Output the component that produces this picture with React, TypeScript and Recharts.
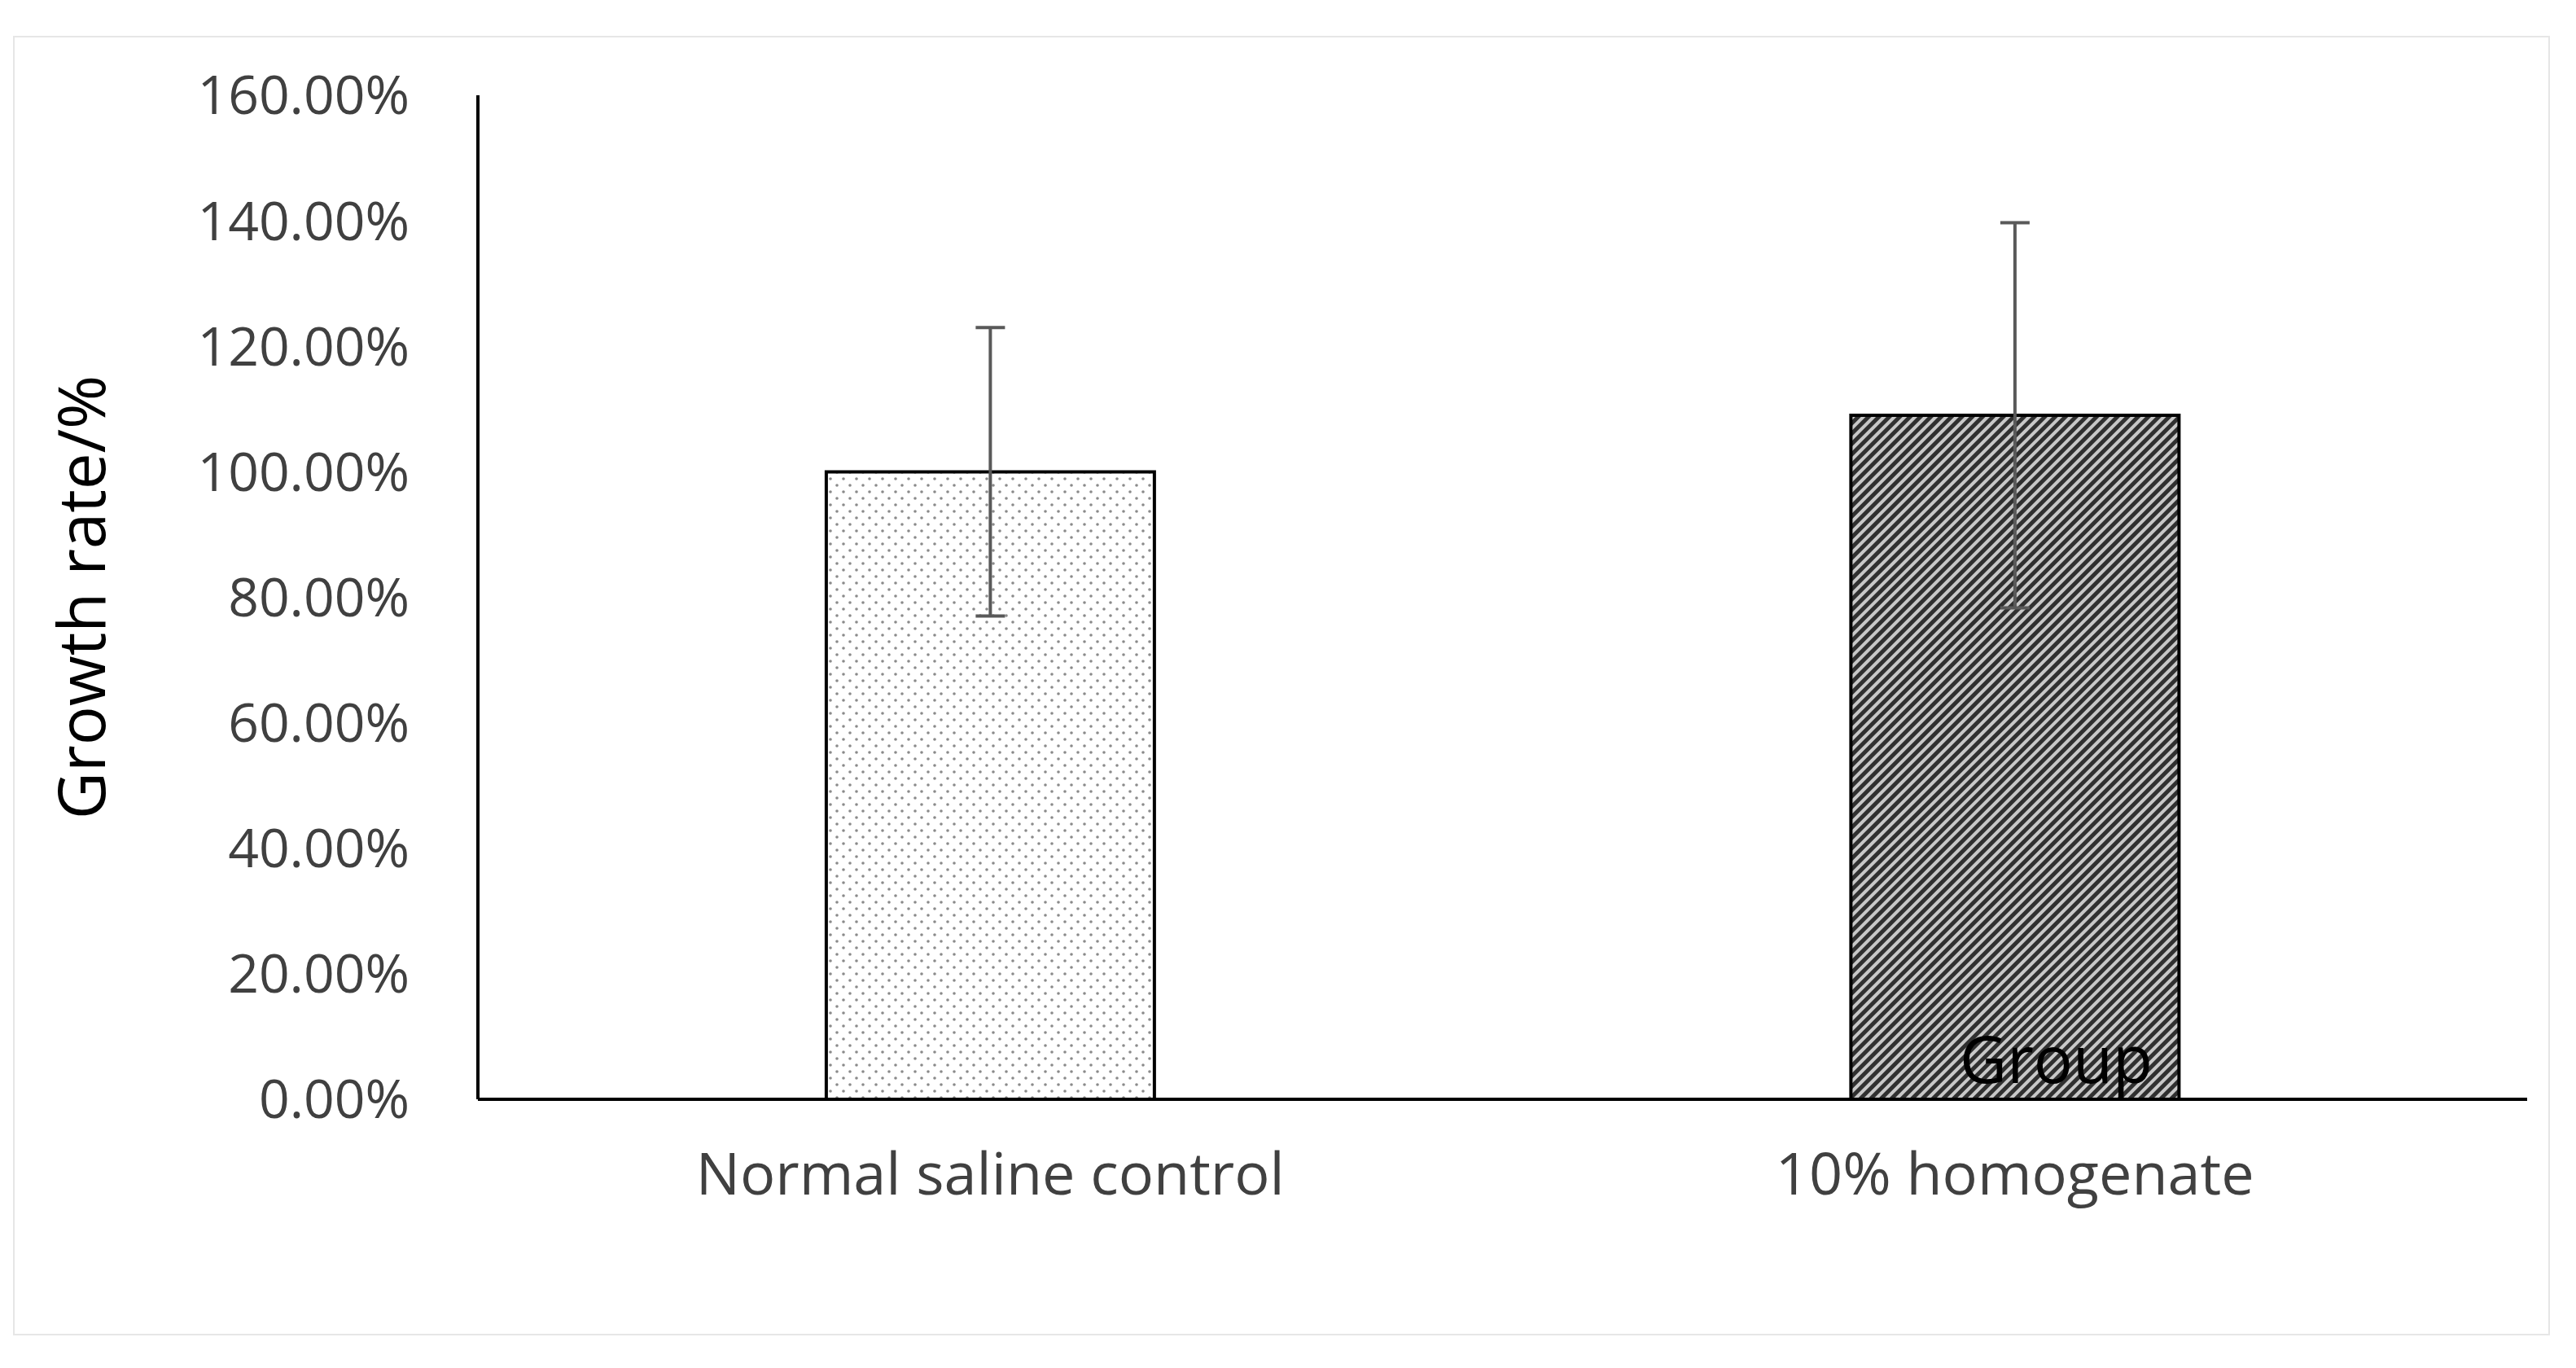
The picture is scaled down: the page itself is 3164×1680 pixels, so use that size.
import { Bar, BarChart, ErrorBar, XAxis, YAxis } from "recharts";

const groups = ["Normal saline control", "10% homogenate"];
const growthRate = [100, 109];
const errors = [23, 30.7];
const fills = ["url(#dots)", "url(#hatch)"];

const rows = groups.map((group, i) => ({ group, value: growthRate[i], err: errors[i], fill: fills[i] }));
const yTicks = [0, 20, 40, 60, 80, 100, 120, 140, 160];

const font = "'Open Sans', 'Noto Sans', sans-serif";

export default function App() {
  return (
    <div style={{ position: "relative", width: 3148, height: 1664, fontFamily: font }}>
      <div
        style={{
          position: "absolute",
          left: 8,
          top: 36,
          width: 3112,
          height: 1592,
          border: "2px solid #e6e6e6",
        }}
      />
      <BarChart
        width={3148}
        height={1664}
        data={rows}
        margin={{ top: 109, right: 52, bottom: 292, left: 0 }}
        barCategoryGap="34%"
        style={{ position: "absolute", left: 0, top: 0 }}
      >
        <defs>
          <pattern id="dots" width="16" height="16" patternUnits="userSpaceOnUse">
            <rect width="16" height="16" fill="#fff" />
            <circle cx="4" cy="4" r="1.8" fill="#8a8a8a" />
            <circle cx="12" cy="12" r="1.8" fill="#8a8a8a" />
          </pattern>
          <pattern id="hatch" width="9" height="9" patternUnits="userSpaceOnUse" patternTransform="rotate(45)">
            <rect width="9" height="9" fill="#c8c8c8" />
            <rect x="0" width="5" height="9" fill="#303030" />
          </pattern>
        </defs>
        <XAxis
          dataKey="group"
          axisLine={{ stroke: "#000", strokeWidth: 4 }}
          tickLine={false}
          tickMargin={60}
          tick={{ fontSize: 72, fill: "#404040", fontFamily: font }}
          label={{
            value: "Group",
            position: "insideBottom",
            offset: 50,
            dx: 680,
            style: { fontSize: 80, fill: "#000", fontFamily: font },
          }}
        />
        <YAxis
          width={579}
          domain={[0, 160]}
          ticks={yTicks}
          interval={0}
          axisLine={{ stroke: "#000", strokeWidth: 4 }}
          tickLine={false}
          tickMargin={78}
          tickFormatter={(v: number) => `${v.toFixed(2)}%`}
          tick={{ fontSize: 66, fill: "#404040", fontFamily: font }}
          label={{
            content: ({ viewBox }: any) => (
              <text
                x={viewBox.x + 89}
                y={viewBox.y + viewBox.height / 2}
                transform={`rotate(-90, ${viewBox.x + 89}, ${viewBox.y + viewBox.height / 2})`}
                textAnchor="middle"
                dominantBaseline="central"
                fontSize={80}
                fill="#000"
                fontFamily={font}
              >
                Growth rate/%
              </text>
            ),
          }}
        />
        <Bar dataKey="value" stroke="#000" strokeWidth={4} isAnimationActive={false}>
          <ErrorBar dataKey="err" width={18} stroke="#595959" strokeWidth={4} />
        </Bar>
      </BarChart>
    </div>
  );
}
